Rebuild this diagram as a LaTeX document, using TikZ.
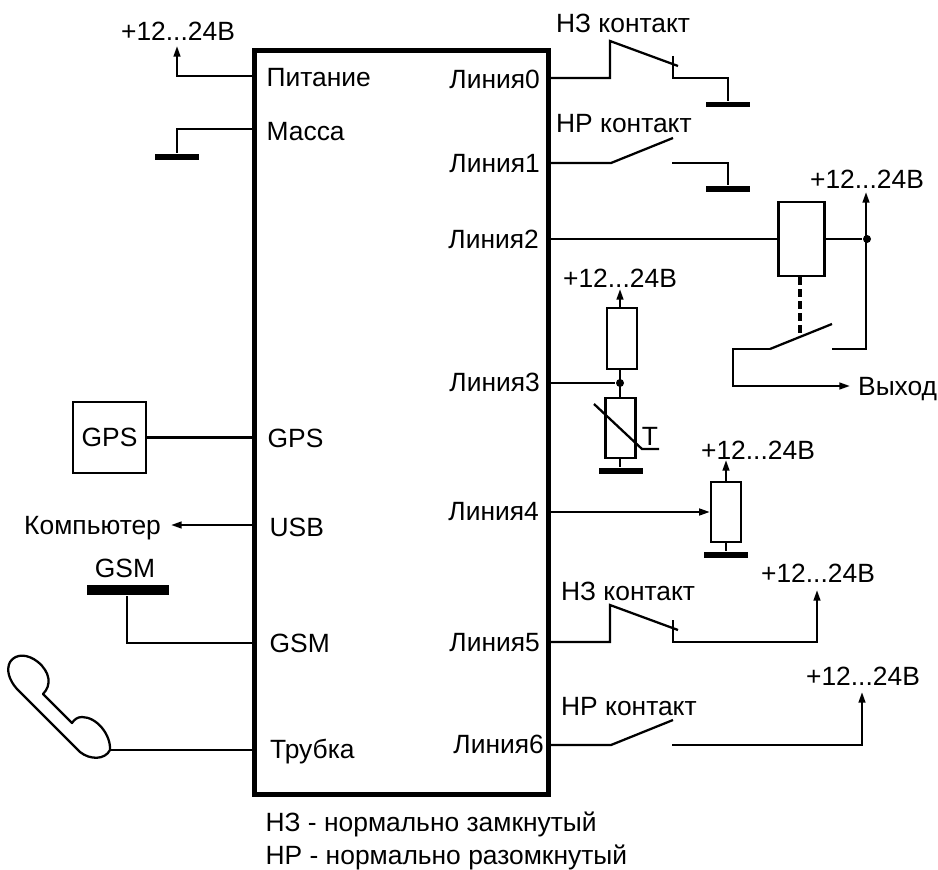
\documentclass[tikz,border=0pt]{standalone}
\usepackage{fontspec}
\setmainfont{Liberation Sans}
\usetikzlibrary{arrows.meta}
\tikzset{every picture/.style={line width=1.7pt}}
\tikzset{lbl/.style={font=\fontsize{19.8}{22}\selectfont,inner sep=0pt},
  wire/.style={line width=1.7pt,line join=miter},
  arrowed/.style={wire,-{Triangle[length=8pt,width=5pt]}},
  gndbar/.style={fill=black,inner sep=0pt,minimum width=33pt,minimum height=4.2pt},
  resbox/.style={draw,line width=1.7pt,inner sep=0pt,minimum width=22.5pt,minimum height=45.5pt},
  junct/.style={circle,fill=black,inner sep=0pt,minimum size=6pt}}

\begin{document}
\begin{tikzpicture}[x=0.75pt,y=0.75pt,yscale=-1,xscale=1]
\useasboundingbox (0,0) rectangle (938,870);

% Main block
\node [draw,line width=3.75pt,inner sep=0pt,minimum width=220.5pt,minimum height=558.4pt] (chip) at (401.5,422.7) {};

% Text Node
\node [lbl,anchor=west] (pit) at (265.5,78) {Питание};
\node [lbl,anchor=west] (mas) at (265.5,132) {Масса};
\node [lbl,anchor=west] (gpsin) at (266.5,438) {GPS};
\node [lbl,anchor=west] (usb) at (268.5,527) {USB};
\node [lbl,anchor=west] (gsmin) at (268.5,643) {GSM};
\node [lbl,anchor=west] (tub) at (269,752) {Трубка};
\node [lbl,anchor=east] (lin0) at (541,79) {Линия0};
\node [lbl,anchor=east] (lin1) at (541,164) {Линия1};
\node [lbl,anchor=east] (lin2) at (540,239) {Линия2};
\node [lbl,anchor=east] (lin3) at (541,382) {Линия3};
\node [lbl,anchor=east] (lin4) at (540,512) {Линия4};
\node [lbl,anchor=east] (lin5) at (541,643) {Линия5};
\node [lbl,anchor=east] (lin6) at (545,744) {Линия6};
\node [lbl] (pw0) at (178,31) {+12...24В};
\node [lbl] (pw2) at (867,179) {+12...24В};
\node [lbl] (pw3) at (620,278) {+12...24В};
\node [lbl] (pw4) at (758,450) {+12...24В};
\node [lbl] (pw5) at (818,573) {+12...24В};
\node [lbl] (pw6) at (863,676) {+12...24В};
\node [lbl,anchor=west] (nc0) at (555,23) {НЗ контакт};
\node [lbl,anchor=west] (no1) at (555,124) {НР контакт};
\node [lbl,anchor=west] (nc5) at (560,591) {НЗ контакт};
\node [lbl,anchor=west] (no6) at (560,707) {НР контакт};
\node [lbl,anchor=west] (out) at (857,389) {Выход};
\node [lbl,anchor=east] (comp) at (162,528) {Компьютер};
\node [lbl] (tlbl) at (650,436) {Т};
\node [lbl] (gsmtxt) at (125,568) {GSM};
\node [lbl,anchor=west] (ncnote) at (264.5,824) {НЗ - нормально замкнутый};
\node [lbl,anchor=west] (nonote) at (264.5,857.5) {НР - нормально разомкнутый};

% Boxes
\node [lbl,draw,line width=1.7pt,minimum width=54.5pt,minimum height=53.5pt] (gps) at (109.5,437.5) {GPS};
\node [resbox,minimum width=34.5pt,minimum height=55.5pt] (relay) at (801.5,239) {};
\node [resbox] (r3) at (622,338.5) {};
\node [resbox] (rt) at (620.5,428) {};
\node [resbox] (r4) at (726,512) {};

% Ground bars
\node [gndbar] (gndm) at (177,157) {};
\node [gndbar] (gnd0) at (728,104.5) {};
\node [gndbar] (gnd1) at (728,189) {};
\node [gndbar] (gndt) at (621,471) {};
\node [gndbar] (gnd4) at (726,555) {};
\node [gndbar,minimum width=61.5pt,minimum height=7.5pt] (gsmbar) at (127.5,590) {};

% Points
\coordinate (p0a) at (177,76);
\coordinate (p0b) at (177,46);
\coordinate (pin0) at (chip.west |- p0a);
\coordinate (m0) at (177,129);
\coordinate (pinm) at (chip.west |- m0);
\coordinate (usbend) at (171,525);
\coordinate (pinusb) at (chip.west |- usbend);
\coordinate (pingps) at (chip.west |- gps);
\coordinate (g1) at (127,643);
\coordinate (pingsm) at (chip.west |- g1);
\coordinate (h0) at (110,750);
\coordinate (pinh) at (chip.west |- h0);
\coordinate (l0) at (chip.east |- 0,78);
\coordinate (l1) at (chip.east |- 0,163);
\coordinate (l2) at (chip.east |- 0,239);
\coordinate (l3) at (chip.east |- 0,383);
\coordinate (l4) at (chip.east |- 0,512);
\coordinate (l5) at (chip.east |- 0,642);
\coordinate (l6) at (chip.east |- 0,745);
\node [junct] (j2) at (867,239) {};
\node [junct] (j3) at (620,383) {};

% Connection
\draw [arrowed] (pin0) -- (p0a) -- (p0b);
\draw [wire] (pinm) -- (m0) -- (gndm.north);
\draw [wire] (gps) -- (pingps);
\draw [arrowed] (pinusb) -- (usbend);
\draw [wire] (g1 |- gsmbar.south) -- (g1) -- (pingsm);
\draw [wire] (pinh) -- (h0);
% Handset
\draw [wire,line join=round] (h0) .. controls (111,735) and (97,717) .. (82,717) .. controls (77,717) and (74,720) .. (72,723) -- (43,694) .. controls (52,685) and (50,672) .. (38,662) .. controls (28,654) and (16,653) .. (10,662) .. controls (6,670) and (9,680) .. (17,689) -- (80,752) .. controls (90,760) and (105,760) .. (110,750);

% Line 0, normally closed
\draw [wire] (l0) -- (610,78) -- (610,41) -- (678,66);
\draw [wire] (673,56) -- (673,78) -- (728,78) -- (gnd0.north);
% Line 1, normally open
\draw [wire] (l1) -- (611,163) -- (673,138);
\draw [wire] (672,163) -- (728,163) -- (gnd1.north);
% Line 2, relay
\draw [wire] (l2) -- (relay.west);
\draw [wire] (relay.east) -- (j2);
\draw [arrowed] (832,349) -- (866,349) -- (866,192);
\draw [line width=3.5pt,dash pattern=on 6pt off 3pt] (800,277) -- (800,335);
\draw [arrowed] (770,349) -- (733,349) -- (733,386) -- (850,386);
\draw [wire] (770,349) -- (832,324);
% Line 3
\draw [wire] (l3) -- (j3);
\draw [arrowed] (r3.north -| j3) -- (620,289);
\draw [wire] (r3.south -| j3) -- (rt.north -| j3);
\draw [wire] (594,404) -- (642,449) -- (659,449);
\draw [wire] (rt.south -| j3) -- (gndt.north -| j3);
% Line 4
\draw [arrowed] (l4) -- (r4.west);
\draw [arrowed] (r4.north) -- (726,460);
\draw [wire] (r4.south) -- (gnd4.north);
% Line 5, normally closed
\draw [wire] (l5) -- (610,642) -- (610,605) -- (678,630);
\draw [arrowed] (673,620) -- (673,642) -- (817,642) -- (817,590);
% Line 6, normally open
\draw [wire] (l6) -- (611,745) -- (673,720);
\draw [arrowed] (672,745) -- (862,745) -- (862,692);

\end{tikzpicture}
\end{document}
